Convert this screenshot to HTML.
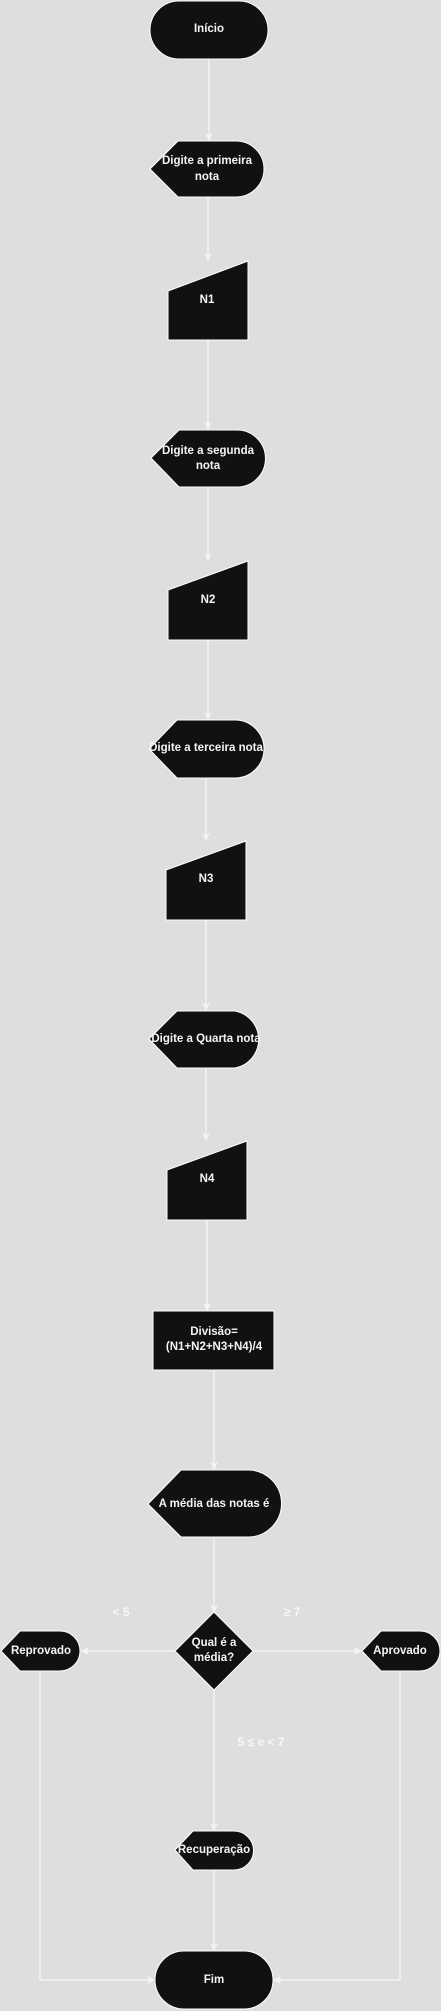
<!DOCTYPE html>
<html><head><meta charset="utf-8"><style>
html,body{margin:0;padding:0;background:#dedede;}
svg{display:block;}
text{font-family:"Liberation Sans",Arial,sans-serif;font-size:11.5px;font-weight:bold;fill:#f4f4f4;text-anchor:middle;dominant-baseline:middle;}
.lbl{font-weight:bold;font-size:12px;fill:#f8f8f8;}
.s{fill:#111;stroke:#fff;stroke-width:1;}
.l{stroke:#f4f4f4;stroke-width:1.5;fill:none;}
</style></head><body>
<svg width="441" height="2011" viewBox="0 0 441 2011" xmlns="http://www.w3.org/2000/svg">
<defs><marker id="a" markerWidth="8" markerHeight="8" refX="7" refY="4" orient="auto" markerUnits="userSpaceOnUse"><path d="M0,0 L8,4 L0,8 L2,4 Z" fill="#f4f4f4"/></marker></defs>
<path class="l" d="M209,59 V140" marker-end="url(#a)"/>
<path class="l" d="M208,197 V260" marker-end="url(#a)"/>
<path class="l" d="M208,340 V429" marker-end="url(#a)"/>
<path class="l" d="M208,487 V560" marker-end="url(#a)"/>
<path class="l" d="M208,640 V719" marker-end="url(#a)"/>
<path class="l" d="M206,778 V840" marker-end="url(#a)"/>
<path class="l" d="M206,920 V1010" marker-end="url(#a)"/>
<path class="l" d="M206,1068 V1140" marker-end="url(#a)"/>
<path class="l" d="M207,1220 V1310" marker-end="url(#a)"/>
<path class="l" d="M214,1370 V1469" marker-end="url(#a)"/>
<path class="l" d="M214,1537 V1612" marker-end="url(#a)"/>
<path class="l" d="M175,1651 H82" marker-end="url(#a)"/>
<path class="l" d="M253,1651 H361" marker-end="url(#a)"/>
<path class="l" d="M214,1690 V1830" marker-end="url(#a)"/>
<path class="l" d="M214,1870 V1950" marker-end="url(#a)"/>
<path class="l" d="M40,1671 V1980 H154" marker-end="url(#a)"/>
<path class="l" d="M400,1671 V1980 H274" marker-end="url(#a)"/>

<rect class="s" x="150" y="1" width="118" height="58" rx="29"/>
<text x="209" y="29">Início</text>

<path class="s" d="M178,141 H236 A28,28 0 0 1 236,197 H178 L150,169 Z"/>
<text x="207" y="161">Digite a primeira</text><text x="207" y="177">nota</text>

<path class="s" d="M168,291 L248,261 V340 H168 Z"/>
<text x="207" y="300">N1</text>

<path class="s" d="M179,430 H237 A28,28 0 0 1 237,487 H179 L151,458 Z"/>
<text x="208" y="451">Digite a segunda</text><text x="208" y="466">nota</text>

<path class="s" d="M168,590 L248,561 V640 H168 Z"/>
<text x="208" y="600">N2</text>

<path class="s" d="M177,720 H235 A29,29 0 0 1 235,778 H177 L149,749 Z"/>
<text x="206" y="748">Digite a terceira nota</text>

<path class="s" d="M166,870 L246,841 V920 H166 Z"/>
<text x="206" y="879">N3</text>

<path class="s" d="M177,1011 H235 A29,29 0 0 1 235,1068 H177 L149,1039 Z"/>
<text x="206" y="1039">Digite a Quarta nota</text>

<path class="s" d="M167,1170 L247,1141 V1220 H167 Z"/>
<text x="207" y="1179">N4</text>

<rect class="s" x="153" y="1311" width="121" height="59"/>
<text x="214" y="1332">Divisão=</text><text x="214" y="1347">(N1+N2+N3+N4)/4</text>

<path class="s" d="M181,1470 H248 A33,33 0 0 1 248,1537 H181 L148,1504 Z"/>
<text x="214" y="1504">A média das notas é</text>

<path class="s" d="M214,1612 L253,1651 L214,1690 L175,1651 Z"/>
<text x="214" y="1643">Qual é a</text><text x="214" y="1658">média?</text>

<path class="s" d="M20,1631 H60 A20,20 0 0 1 60,1671 H20 L1,1651 Z"/>
<text x="41" y="1651">Reprovado</text>

<path class="s" d="M381,1631 H420 A20,20 0 0 1 420,1671 H381 L362,1651 Z"/>
<text x="400" y="1651">Aprovado</text>

<path class="s" d="M193,1831 H234 A19,19 0 0 1 234,1870 H193 L175,1850 Z"/>
<text x="214" y="1850">Recuperação</text>

<rect class="s" x="155" y="1951" width="118" height="58" rx="29"/>
<text x="214" y="1980">Fim</text>

<text class="lbl" x="121" y="1613">&lt; 5</text>
<text class="lbl" x="292" y="1613">≥ 7</text>
<text class="lbl" x="261" y="1743">5 ≤  e &lt; 7</text>
</svg>
</body></html>
